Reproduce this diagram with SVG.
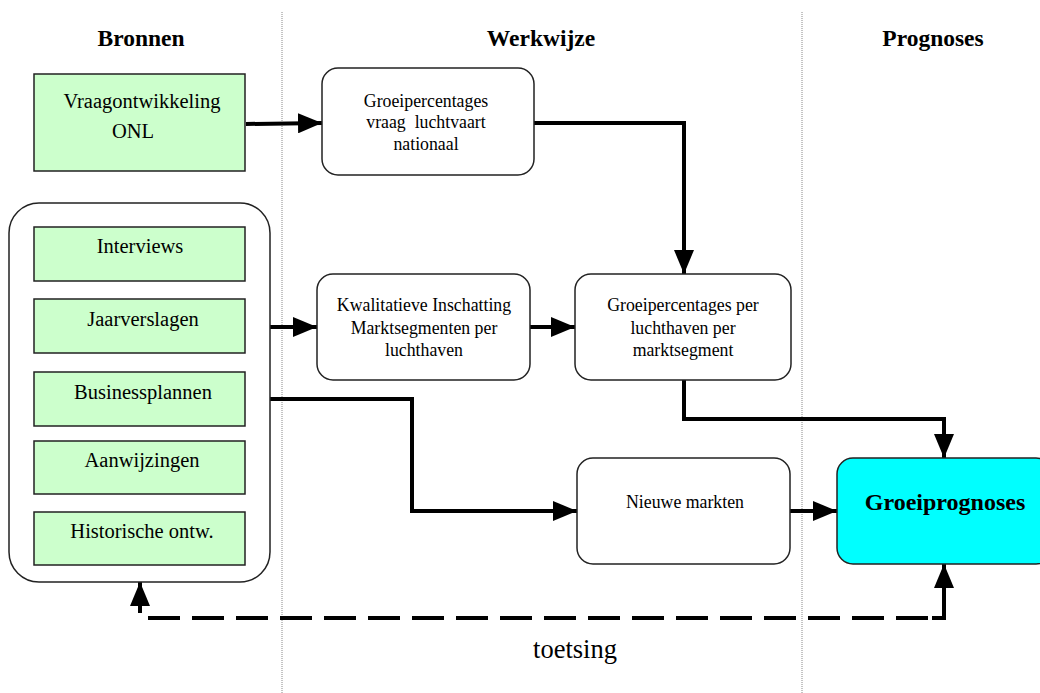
<svg xmlns="http://www.w3.org/2000/svg" width="1040" height="693" viewBox="0 0 1040 693">
<style>
.hdr{font-family:"Liberation Serif",serif;font-weight:bold;font-size:23.5px;text-anchor:middle;fill:#000}
.src{font-family:"Liberation Serif",serif;font-size:20.5px;text-anchor:middle;fill:#000}
.step{font-family:"Liberation Serif",serif;font-size:17.8px;text-anchor:middle;fill:#000}
.green{fill:#ccffcc;stroke:#222;stroke-width:1.5}
.round{fill:#fff;stroke:#222;stroke-width:1.5}
.conn{fill:none;stroke:#000;stroke-width:4}
.div{stroke:#888;stroke-width:1;stroke-dasharray:1,1}
</style>
<defs>
<marker id="arr" viewBox="0 0 24 20" refX="24" refY="10" markerWidth="24" markerHeight="20" markerUnits="userSpaceOnUse" orient="auto">
<path d="M0,0 L24,10 L0,20 z" fill="#000"/>
</marker>
</defs>
<rect width="1040" height="693" fill="#fff"/>
<g id="dividers">
<line class="div" x1="282" y1="12" x2="282" y2="693"/>
<line class="div" x1="802" y1="12" x2="802" y2="693"/>
</g>
<g id="headers">
<text class="hdr" x="141" y="46">Bronnen</text>
<text class="hdr" x="541" y="46">Werkwijze</text>
<text class="hdr" x="933" y="46">Prognoses</text>
</g>
<g id="connectors">
<line class="conn" x1="246" y1="124" x2="322" y2="123" marker-end="url(#arr)"/>
<polyline class="conn" points="534,123 684,123 684,274" marker-end="url(#arr)"/>
<line class="conn" x1="270" y1="327" x2="317" y2="327" marker-end="url(#arr)"/>
<line class="conn" x1="530" y1="327" x2="575" y2="327" marker-end="url(#arr)"/>
<polyline class="conn" points="684,380 684,419 944,419 944,458" marker-end="url(#arr)"/>
<polyline class="conn" points="270,399 412,399 412,511 577,511" marker-end="url(#arr)"/>
<line class="conn" x1="790" y1="511" x2="837" y2="511" marker-end="url(#arr)"/>
<line class="conn" x1="148" y1="618" x2="932" y2="618" stroke-dasharray="32,12"/>
<polyline class="conn" points="932,618 944,618 944,564" marker-end="url(#arr)"/>
<line class="conn" x1="140" y1="613" x2="140" y2="582" marker-end="url(#arr)"/>
<text x="575" y="658" font-family="Liberation Serif, serif" font-size="26.5" text-anchor="middle">toetsing</text>
</g>
<g id="vraagontwikkeling">
<rect class="green" x="34" y="74" width="211" height="97"/>
<text class="src" x="142" y="108" font-size="21">Vraagontwikkeling</text>
<text class="src" x="133" y="138" font-size="21">ONL</text>
</g>
<g id="bronnen-groep">
<rect class="round" x="9" y="203" width="261" height="379" rx="30" ry="30"/>
</g>
<g id="interviews">
<rect class="green" x="34" y="227" width="211" height="54"/>
<text class="src" x="140" y="253">Interviews</text>
</g>
<g id="jaarverslagen">
<rect class="green" x="34" y="299" width="211" height="54"/>
<text class="src" x="143" y="326">Jaarverslagen</text>
</g>
<g id="businessplannen">
<rect class="green" x="34" y="372" width="211" height="54"/>
<text class="src" x="143" y="399">Businessplannen</text>
</g>
<g id="aanwijzingen">
<rect class="green" x="34" y="441" width="211" height="53"/>
<text class="src" x="142" y="467">Aanwijzingen</text>
</g>
<g id="historische">
<rect class="green" x="34" y="512" width="211" height="53"/>
<text class="src" x="142" y="538">Historische ontw.</text>
</g>
<g id="groei-nationaal">
<rect class="round" x="322" y="68" width="212" height="107" rx="16" ry="16"/>
<text class="step" x="426" y="107">Groeipercentages</text>
<text class="step" x="426" y="128" xml:space="preserve">vraag  luchtvaart</text>
<text class="step" x="426" y="150">nationaal</text>
</g>
<g id="kwalitatieve">
<rect class="round" x="317" y="274" width="213" height="106" rx="16" ry="16"/>
<text class="step" x="424" y="311">Kwalitatieve Inschatting</text>
<text class="step" x="424" y="334">Marktsegmenten per</text>
<text class="step" x="424" y="356">luchthaven</text>
</g>
<g id="groei-luchthaven">
<rect class="round" x="575" y="274" width="216" height="106" rx="16" ry="16"/>
<text class="step" x="683" y="311">Groeipercentages per</text>
<text class="step" x="683" y="334">luchthaven per</text>
<text class="step" x="683" y="356">marktsegment</text>
</g>
<g id="nieuwe-markten">
<rect class="round" x="577" y="458" width="213" height="106" rx="16" ry="16"/>
<text class="step" x="685" y="508">Nieuwe markten</text>
</g>
<g id="groeiprognoses">
<rect x="837" y="458" width="215" height="106" rx="16" ry="16" fill="#00ffff" stroke="#222" stroke-width="1.5"/>
<text x="945" y="510" font-family="Liberation Serif, serif" font-weight="bold" font-size="24" text-anchor="middle">Groeiprognoses</text>
</g>
</svg>
